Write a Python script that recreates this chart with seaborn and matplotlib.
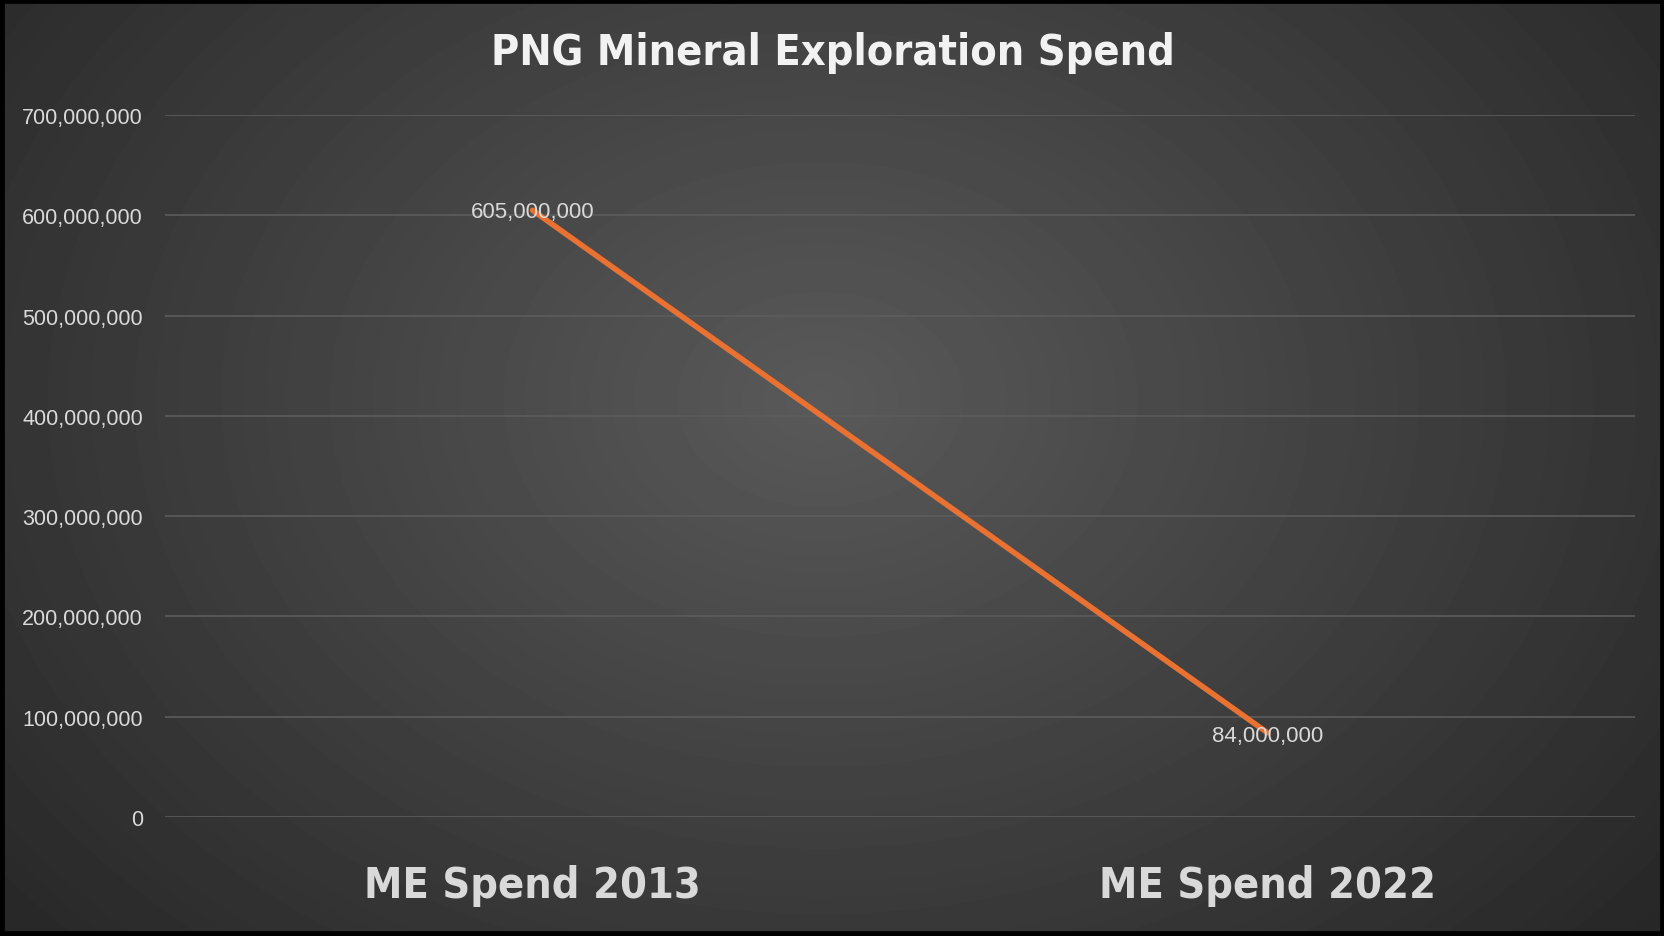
import numpy as np
import pandas as pd
import seaborn as sns
import matplotlib
matplotlib.use('Agg')
from matplotlib import pyplot as plt
from matplotlib.patches import Rectangle
from matplotlib.ticker import FuncFormatter

categories = ['ME Spend 2013', 'ME Spend 2022']
spend = [605000000, 84000000]
yticks = [0, 100000000, 200000000, 300000000, 400000000, 500000000, 600000000, 700000000]

df = pd.DataFrame({'category': categories, 'spend': spend})

sns.set_style('dark')
plt.rcParams['font.family'] = ['Liberation Sans', 'DejaVu Sans']

fig = plt.figure(figsize=(16.65, 9.37), dpi=100)

# radial gradient background
bg = fig.add_axes([0, 0, 1, 1], zorder=-2)
yy, xx = np.mgrid[0:937, 0:1665]
r = np.sqrt(((xx - 820) / 1000.0) ** 2 + ((yy - 400) / 750.0) ** 2)
shade = np.clip(0.35 - 0.18 * r, 0.15, 0.35)
bg.imshow(shade, cmap='gray', vmin=0, vmax=1, aspect='auto', extent=[0, 1, 0, 1])
bg.axis('off')

ax = fig.add_axes([165 / 1665, 1 - 818 / 937, 1470 / 1665, 702 / 937])
ax.patch.set_alpha(0)
sns.lineplot(data=df, x='category', y='spend', ax=ax, color='#E97132', linewidth=4,
             solid_capstyle='round')
ax.set_xlim(-0.5, 1.5)
ax.set_ylim(0, 700000000)
ax.set_yticks(yticks)
ax.yaxis.set_major_formatter(FuncFormatter(lambda v, p: f'{int(v):,}'))
ax.grid(axis='y', color='#5c5c5c', linewidth=1.2)
ax.grid(axis='x', visible=False)
ax.set_axisbelow(True)
for s in ax.spines.values():
    s.set_visible(False)
ax.tick_params(axis='y', colors='#d9d9d9', labelsize=15.5, length=0, pad=16)
ax.tick_params(axis='x', colors='#d9d9d9', length=0, pad=34)
for lbl in ax.get_xticklabels():
    lbl.set_fontsize(31)
    lbl.set_fontweight('bold')
    lbl.set_fontstretch('condensed')
    lbl.set_family('DejaVu Sans')
ax.set_xlabel('')
ax.set_ylabel('')

# data labels
ax.annotate(f'{spend[0]:,}', (0, spend[0]), xytext=(0, -1), textcoords='offset points',
            ha='center', va='center', color='#d9d9d9', fontsize=16)
ax.annotate(f'{spend[1]:,}', (1, spend[1]), xytext=(0, -2), textcoords='offset points',
            ha='center', va='center', color='#d9d9d9', fontsize=16)

fig.text(0.5, 1 - 53 / 937, 'PNG Mineral Exploration Spend', ha='center', va='center',
         color='#f2f2f2', fontsize=31, fontweight='bold', fontstretch='condensed',
         family='DejaVu Sans')

fig.patches.append(Rectangle((0, 0), 1, 1, transform=fig.transFigure, fill=False,
                             edgecolor='black', linewidth=7, zorder=10))

fig.savefig('out.png', dpi=100)
